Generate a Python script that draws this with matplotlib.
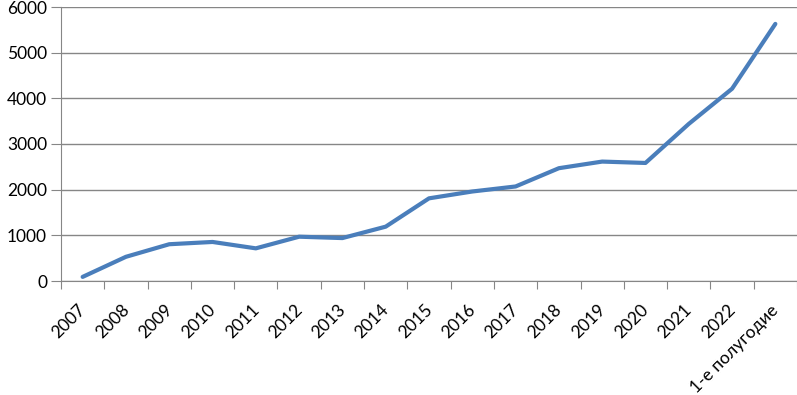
import matplotlib
matplotlib.use('Agg')
import matplotlib.pyplot as plt
import matplotlib.transforms as mtransforms
import numpy as np

categories = ['2007', '2008', '2009', '2010', '2011', '2012', '2013', '2014',
              '2015', '2016', '2017', '2018', '2019', '2020', '2021', '2022',
              '1-е полугодие']
values = [90, 530, 805, 855, 715, 970, 940, 1190,
          1810, 1960, 2070, 2470, 2615, 2585, 3440, 4210, 5630]
y_ticks = [0, 1000, 2000, 3000, 4000, 5000, 6000]

plt.rcParams['font.family'] = ['Lato', 'DejaVu Sans']

fig = plt.figure(figsize=(7.97, 3.95), dpi=100)
ax = fig.add_axes([61 / 797, 1 - 281 / 395, 1 - 61 / 797, (281 - 7) / 395])

x = np.arange(len(categories))
ax.plot(x, values, color='#4A7EBB', lw=3, solid_joinstyle='round', solid_capstyle='round', zorder=3)

ax.set_xlim(-0.5, len(categories) - 0.5)
ax.set_ylim(0, 6000)
ax.set_yticks(y_ticks)
ax.set_yticklabels([str(v) for v in y_ticks], fontsize=12.5)
ax.yaxis.grid(True, color='#868686', lw=1)
ax.set_axisbelow(True)

# category ticks sit between the points, labels at the points
ax.set_xticks(np.arange(-0.5, len(categories), 1.0))
ax.set_xticklabels([])
ax.set_xticks(x, minor=True)
ax.set_xticklabels(categories, minor=True, rotation=45, ha='right', va='top',
                   rotation_mode='anchor', fontsize=12.5)
ax.tick_params(axis='x', which='minor', length=0, pad=15)
ax.tick_params(axis='x', which='major', length=6, color='#868686', direction='out')
ax.tick_params(axis='y', length=7, color='#868686', pad=3)

shift = mtransforms.ScaledTranslation(-5 / 100, 0, fig.dpi_scale_trans)
for lbl in ax.get_xticklabels(minor=True):
    lbl.set_transform(lbl.get_transform() + shift)

for s in ['top', 'right']:
    ax.spines[s].set_visible(False)
for s in ['left', 'bottom']:
    ax.spines[s].set_color('#868686')

fig.savefig('out.png', dpi=100)
